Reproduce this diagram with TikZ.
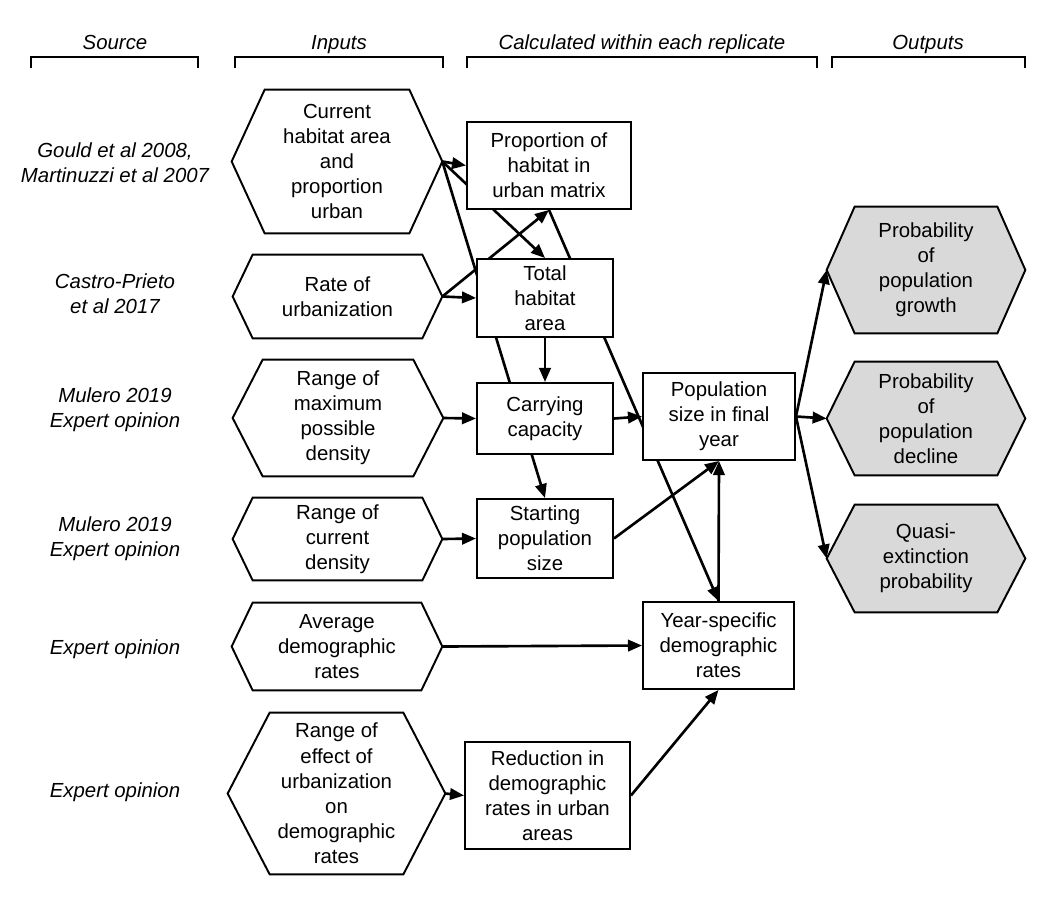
\documentclass[tikz,border=0pt]{standalone}
\usepackage{fontspec}
\setmainfont{Liberation Sans}
\usetikzlibrary{arrows.meta,backgrounds}
\definecolor{outgray}{RGB}{217,217,217}
\newcommand{\diagfont}{\fontsize{11.6}{14.3}\selectfont}
% hexagon outline round a (borderless) rectangle node
\newcommand{\hexframe}[3][white]{%
  \begin{pgfonlayer}{background}
    \draw[line width=1.1pt,fill=#1] (#2.west) -- ([xshift=#3]#2.north west) -- ([xshift=-#3]#2.north east)
      -- (#2.east) -- ([xshift=-#3]#2.south east) -- ([xshift=#3]#2.south west) -- cycle;
  \end{pgfonlayer}}
\tikzset{
  >={Triangle[length=8pt,width=6.5pt]},
  box/.style={draw,fill=white,line width=1.1pt,align=center,font=\diagfont,inner sep=2pt},
  hexa/.style={align=center,font=\diagfont,inner sep=2pt},
  src/.style={align=center,font=\diagfont\itshape},
  head/.style={font=\diagfont\itshape,anchor=base},
  bracket/.style={line width=0.7pt},
  flow/.style={->,line width=1.5pt},
}

\begin{document}
\begin{tikzpicture}[x=0.2mm,y=-0.2mm]
  \useasboundingbox (0,0) rectangle (1055,900);
  % column headings
  \foreach \cx/\lo/\hi/\txt [count=\i] in {115/31/198/Source, 339/235/443/Inputs,
      642/467/817/Calculated within each replicate, 928/832/1025/Outputs}{
    \node[head] (hd\i) at (\cx,49) {\txt};
    \draw[bracket] (\lo,68) -- (\lo,57) -- (\hi,57) -- (\hi,68);
  }
  % sources
  \node[src] (s1) at (115,163) {Gould et al 2008,\\Martinuzzi et al 2007};
  \node[src] (s2) at (115,294) {Castro-Prieto\\et al 2017};
  \node[src] (s3) at (115,410) {Mulero 2019\\Expert opinion};
  \node[src] (s4) at (115,539) {Mulero 2019\\Expert opinion};
  \node[src] (s5) at (115,649) {Expert opinion};
  \node[src] (s6) at (115,792) {Expert opinion};
  % inputs
  \node[hexa,minimum width=42mm,minimum height=28.6mm] (cur) at (337,161.5) {Current\\habitat area\\and\\proportion\\urban};
  \hexframe{cur}{6.6mm}
  \node[hexa,minimum width=41.8mm,minimum height=16.6mm] (rate) at (337.5,296.5) {Rate of\\urbanization};
  \hexframe{rate}{4mm}
  \node[hexa,minimum width=42mm,minimum height=23.2mm] (maxd) at (338,418) {Range of\\maximum\\possible\\density};
  \hexframe{maxd}{6mm}
  \node[hexa,minimum width=41.8mm,minimum height=16.4mm] (curd) at (337.5,539) {Range of\\current\\density};
  \hexframe{curd}{4mm}
  \node[hexa,minimum width=42mm,minimum height=17.4mm] (avg) at (337,646.5) {Average\\demographic\\rates};
  \hexframe{avg}{4.2mm}
  \node[hexa,minimum width=43.4mm,minimum height=32.2mm] (eff) at (336.5,793.5) {Range of\\effect of\\urbanization\\on\\demographic\\rates};
  \hexframe{eff}{8.4mm}
  % calculated within each replicate
  \node[box,minimum width=32.8mm,minimum height=17.4mm] (prop) at (549,165.5) {Proportion of\\habitat in\\urban matrix};
  \node[box,minimum width=27.2mm,minimum height=15.6mm] (tot) at (545,298) {Total\\habitat\\area};
  \node[box,minimum width=27.2mm,minimum height=14.2mm] (cap) at (545,418.5) {Carrying\\capacity};
  \node[box,minimum width=27.2mm,minimum height=15.8mm] (start) at (545,538.5) {Starting\\population\\size};
  \node[box,minimum width=33mm,minimum height=21.4mm] (red) at (547.5,795.5) {Reduction in\\demographic\\rates in urban\\areas};
  \node[box,minimum width=30.4mm,minimum height=17.4mm] (fin) at (719,416.5) {Population\\size in final\\year};
  \node[box,minimum width=30.2mm,minimum height=17.4mm] (yr) at (718.5,645.5) {Year-specific\\demographic\\rates};
  % outputs
  \node[hexa,minimum width=39.6mm,minimum height=25.2mm] (grow) at (926,270) {Probability\\of\\population\\growth};
  \hexframe[outgray]{grow}{5.6mm}
  \node[hexa,minimum width=39.6mm,minimum height=22.6mm] (decl) at (926,418.5) {Probability\\of\\population\\decline};
  \hexframe[outgray]{decl}{5.6mm}
  \node[hexa,minimum width=39.6mm,minimum height=21.4mm] (ext) at (926,558.5) {Quasi-\\extinction\\probability};
  \hexframe[outgray]{ext}{5.6mm}
  % connectors (behind the boxes)
  \begin{scope}[on background layer]
    \draw[flow] (cur.east) -- (prop.west);
    \draw[flow] (cur.east) -- (tot.north);
    \draw[flow] (cur.east) -- (start.north);
    \draw[flow] (rate.east) -- (tot.west);
    \draw[flow] (rate.east) -- (prop.south);
    \draw[flow] (prop.south) -- (yr.north);
    \draw[flow] (tot.south) -- (cap.north);
    \draw[flow] (maxd.east) -- (cap.west);
    \draw[flow] (cap.east) -- (fin.west);
    \draw[flow] (curd.east) -- (start.west);
    \draw[flow] (start.east) -- (fin.south);
    \draw[flow] (yr.north) -- (fin.south);
    \draw[flow] (avg.east) -- (yr.west);
    \draw[flow] (eff.east) -- (red.west);
    \draw[flow] (red.east) -- (yr.south);
    \foreach \o in {grow,decl,ext}
      \draw[flow] (fin.east) -- (\o.west);
  \end{scope}
\end{tikzpicture}
\end{document}
